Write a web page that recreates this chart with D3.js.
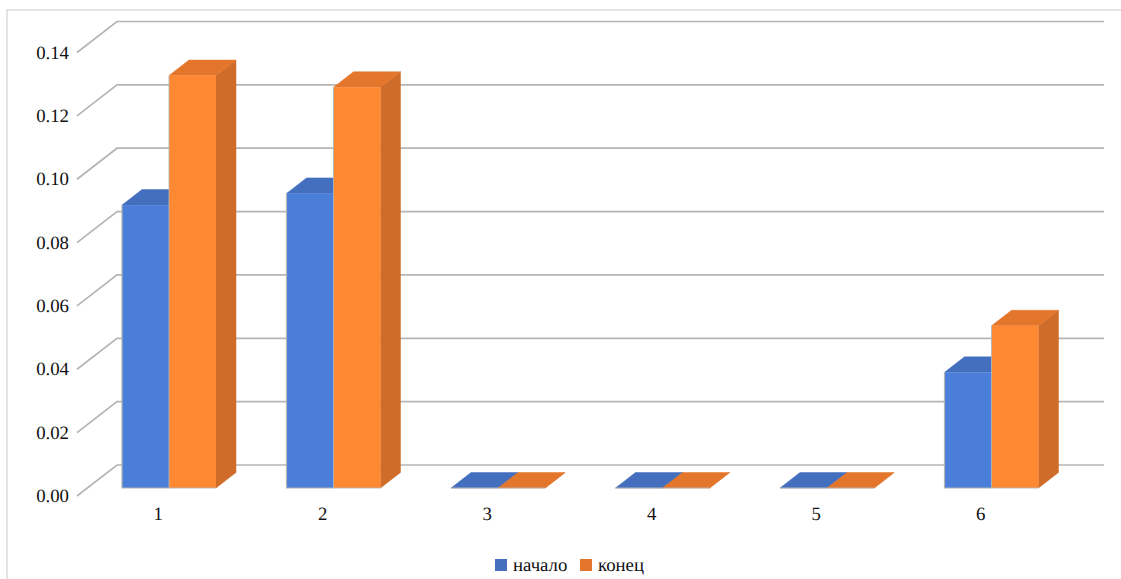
<!DOCTYPE html>
<html>
<head>
<meta charset="utf-8">
<script src="https://cdn.jsdelivr.net/npm/d3@7"></script>
<style>
html,body{margin:0;padding:0;background:#fff;overflow:hidden}
svg{display:block}
text{font-family:"Liberation Serif",serif;fill:#111;text-rendering:geometricPrecision}
</style>
</head>
<body>
<svg id="c" width="1121" height="579"></svg>
<script>
const categories = ["1","2","3","4","5","6"];
const seriesNames = ["начало","конец"];
const startValues = [0.0893,0.0930,0,0,0,0.0365];
const endValues = [0.1302,0.1265,0,0,0,0.0512];
const yTicks = [0,0.02,0.04,0.06,0.08,0.10,0.12,0.14];

const W=1121,H=579;
const svg=d3.select("#c");
// chart frame
svg.append("path").attr("d",`M${W},10H7V${H}`).attr("fill","none").attr("stroke","#dcdcdc").attr("stroke-width",1.6);

const y=d3.scaleLinear().domain([0,0.14]).range([488,44.5]);
const x=d3.scaleBand().domain(categories).range([76,1063]);
const sx=d3.scaleBand().domain(seriesNames).range([0,94]);
const groupOffset=(x.bandwidth()-sx.bandwidth()*2)/2+10.75;

const floorFront={dx:-40,dy:31},wallX=117,wallRight=1104,wallUp=-23;
const barDepth={dx:20,dy:-15.5};

// gridlines with the left-wall diagonals
svg.append("g").selectAll("path").data(yTicks).join("path")
  .attr("d",d=>{const yb=y(d)+wallUp;return `M${wallX+floorFront.dx},${yb+floorFront.dy}L${wallX},${yb}H${wallRight}`;})
  .attr("fill","none").attr("stroke","#b5b5b5").attr("stroke-width",1.7);

// axes
const ya=svg.append("g").attr("transform","translate(69,7.5)")
  .call(d3.axisLeft(y).tickValues(yTicks).tickFormat(d3.format(".2f")).tickSize(0).tickPadding(0));
ya.select(".domain").remove();
ya.selectAll("text").attr("font-size",18.8);
const xa=svg.append("g").attr("transform","translate(0,507)")
  .call(d3.axisBottom(x).tickSize(0).tickPadding(0));
xa.select(".domain").remove();
xa.selectAll("text").attr("font-size",18.8);

const colors={
 "начало":{front:"#4a7ed9",top:"#436fbe",side:"#3d66ae"},
 "конец":{front:"#ff8833",top:"#e4762c",side:"#cf6c2a"}
};
const edge="#b4b4b4";
const rows=[[seriesNames[0],startValues],[seriesNames[1],endValues]];

// bars drawn group by group, left to right, back to front
categories.forEach((c,i)=>{
  rows.forEach(([name,vals])=>{
    const g=svg.append("g");
    const x0=x(c)+groupOffset+sx(name),x1=x0+sx.bandwidth();
    const yt=y(vals[i]),yb=y(0),col=colors[name];
    const dx=barDepth.dx,dy=barDepth.dy;
    g.append("path").attr("d",`M${x1},${yb}L${x1+dx},${yb+dy}V${yt+dy}L${x1},${yt}Z`)
      .attr("fill",col.side).attr("stroke",col.side).attr("stroke-width",.5);
    g.append("path").attr("d",`M${x0},${yt}L${x0+dx},${yt+dy}H${x1+dx}L${x1},${yt}Z`)
      .attr("fill",col.top).attr("stroke",col.top).attr("stroke-width",.5);
    g.append("rect").attr("x",x0).attr("y",yt).attr("width",x1-x0).attr("height",Math.max(0,yb-yt))
      .attr("fill",col.front);
    g.append("path").attr("d",`M${x0},${yt}V${yb}H${x1}`).attr("fill","none").attr("stroke",edge).attr("stroke-width",name===seriesNames[0]?1.2:.9);
  });
});

// legend
const legendX=d3.scaleOrdinal().domain(seriesNames).range([495,580]);
const lg=svg.append("g").selectAll("g").data(seriesNames).join("g")
  .attr("transform",d=>`translate(${legendX(d)},559)`);
lg.append("rect").attr("width",12).attr("height",12).attr("fill",d=>colors[d].top);
lg.append("text").attr("x",18).attr("y",12).attr("font-size",18.8).text(d=>d);
</script>
</body>
</html>
